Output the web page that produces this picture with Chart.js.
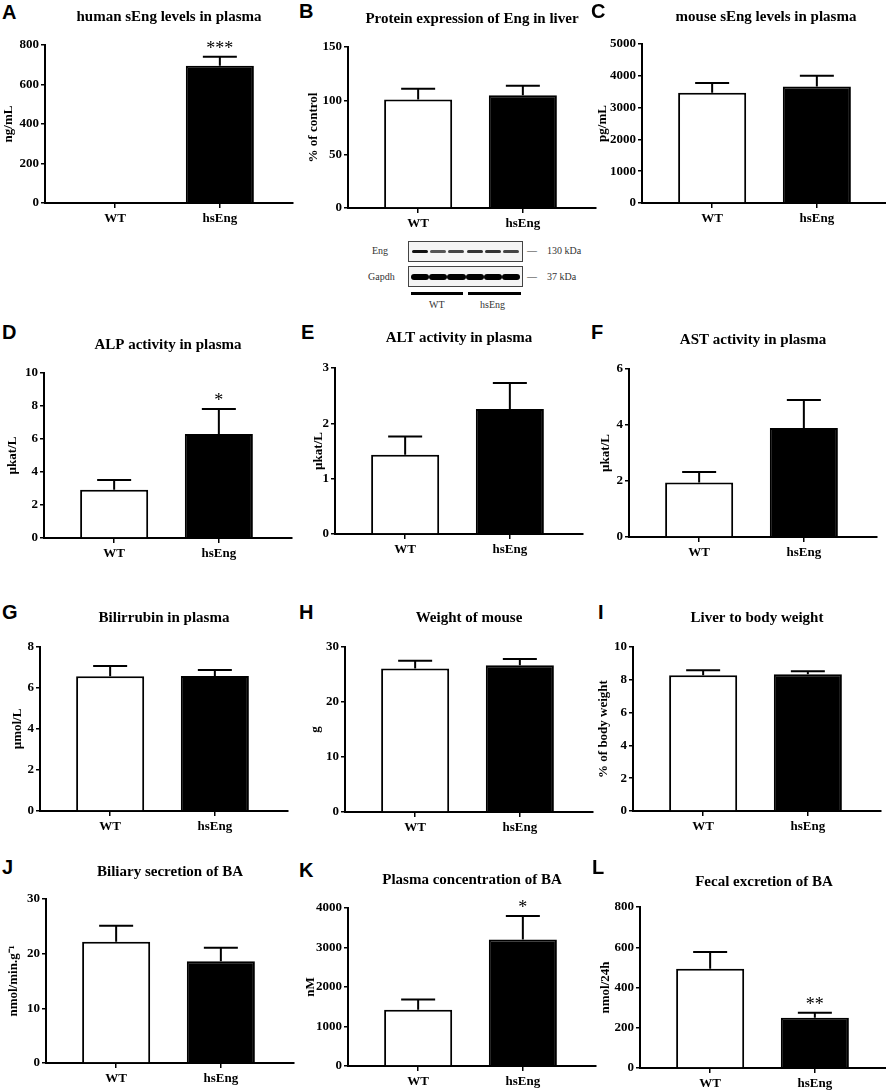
<!DOCTYPE html>
<html>
<head>
<meta charset="utf-8">
<script src="https://cdn.jsdelivr.net/npm/chart.js@4.4.0/dist/chart.umd.min.js"></script>
<style>
body { margin: 0; background: #fff; width: 886px; height: 1091px; position: relative; overflow: hidden; font-family: 'Liberation Serif', serif; }
canvas { position: absolute; }
.letter { position: absolute; font: bold 20px 'Liberation Sans', Arial, sans-serif; line-height: 20px; color: #000; }
.blot-txt { position: absolute; font: 10px 'Liberation Serif', serif; color: #333; white-space: nowrap; line-height: 10px; }
.blot-box { position: absolute; left: 408px; width: 115px; height: 21px; border: 1px solid #444; box-sizing: border-box; display: flex; align-items: center; justify-content: space-around; padding: 0 2px; background: #f4f4f4; }
.band { width: 16px; border-radius: 3px; filter: blur(0.6px); }
.uline { position: absolute; top: 292px; height: 3px; background: #000; }
</style>
</head>
<body>
<script>
// groups on the x axis
const categories = ["WT", "hsEng"];

// mean values and (upper) SEM for each panel
const humanSEng = [0, 695];        const humanSEngErr = [0, 46];
const liverEng = [101, 105];       const liverEngErr = [10, 9];
const mouseSEng = [3465, 3665];    const mouseSEngErr = [305, 335];
const alp = [2.93, 6.3];           const alpErr = [0.59, 1.52];
const alt = [1.43, 2.26];          const altErr = [0.33, 0.47];
const ast = [1.95, 3.89];          const astErr = [0.37, 1.0];
const bilirubin = [6.57, 6.59];    const bilirubinErr = [0.5, 0.29];
const bodyWeight = [26.1, 26.7];   const bodyWeightErr = [1.4, 1.1];
const liverRatio = [8.28, 8.34];   const liverRatioErr = [0.3, 0.18];
const biliaryBA = [22.2, 18.6];    const biliaryBAErr = [2.9, 2.5];
const plasmaBA = [1423, 3200];     const plasmaBAErr = [261, 598];
const fecalBA = [493, 250];        const fecalBAErr = [83, 25];

const panelLetters = ["A","B","C","D","E","F","G","H","I","J","K","L"];
const panelTitles = [
  "human sEng levels in plasma", "Protein expression of Eng in liver", "mouse sEng levels in plasma",
  "ALP activity in plasma", "ALT activity in plasma", "AST activity in plasma",
  "Bilirrubin in plasma", "Weight of mouse", "Liver to body weight",
  "Biliary secretion of BA", "Plasma concentration of BA", "Fecal excretion of BA"
];
const yTitles = ["ng/mL", "% of control", "pg/mL", "µkat/L", "µkat/L", "µkat/L",
  "µmol/L", "g", "% of body weight", "nmol/min.g⁻¹", "nM", "nmol/24h"];
const yMax = [800, 150, 5000, 10, 3, 6, 8, 30, 10, 30, 4000, 800];
const yStep = [200, 50, 1000, 2, 1, 2, 2, 10, 2, 10, 1000, 200];
const means = [humanSEng, liverEng, mouseSEng, alp, alt, ast, bilirubin, bodyWeight, liverRatio, biliaryBA, plasmaBA, fecalBA];
const errs = [humanSEngErr, liverEngErr, mouseSEngErr, alpErr, altErr, astErr, bilirubinErr, bodyWeightErr, liverRatioErr, biliaryBAErr, plasmaBAErr, fecalBAErr];
const stars = [["", "***"], ["", ""], ["", ""], ["", "*"], ["", ""], ["", ""],
  ["", ""], ["", ""], ["", ""], ["", ""], ["", "*"], ["", "**"]];

// page layout: plot left, plot top, plot bottom, title centre y, y-title centre x, letter x, letter y
const boxes = [
  [45, 45, 203, 17, 8, 2, 2],       [348, 47, 208, 19, 313, 299, 1],    [642, 44, 203, 17, 602, 591, 1],
  [44, 373, 538, 345, 12, 2, 322],  [335, 368, 534, 338, 318, 301, 322], [629, 369, 537, 340, 605, 591, 322],
  [40, 647, 811, 618, 17, 2, 602],  [345, 647, 812, 618, 315, 299, 602], [633, 647, 811, 618, 603, 598, 602],
  [46, 899, 1063, 872, 13, 2, 857], [348, 908, 1066, 880, 310, 299, 860], [640, 907, 1068, 882, 605, 592, 857]
];
const PLOT_W = 248, XAXIS_H = 32;
const serif = "'Liberation Serif', 'Times New Roman', serif";

const errorBars = {
  id: "errorBars",
  afterDatasetsDraw(chart) {
    const ctx = chart.ctx;
    const ds = chart.data.datasets[0];
    const y = chart.scales.y;
    chart.getDatasetMeta(0).data.forEach((bar, i) => {
      const top = y.getPixelForValue(ds.data[i].y + ds.errors[i]);
      ctx.save();
      ctx.strokeStyle = "#000";
      ctx.lineWidth = 2;
      if (ds.errors[i] > 0) {
        ctx.beginPath();
        ctx.moveTo(bar.x, bar.y);
        ctx.lineTo(bar.x, top);
        ctx.moveTo(bar.x - 17, top);
        ctx.lineTo(bar.x + 17, top);
        ctx.stroke();
      }
      if (ds.stars[i]) {
        ctx.fillStyle = "#000";
        ctx.font = "18px " + serif;
        ctx.textAlign = "center";
        ctx.textBaseline = "alphabetic";
        ctx.fillText(ds.stars[i], bar.x, top - 3);
      }
      ctx.restore();
    });
  }
};

panelLetters.forEach((letter, i) => {
  const [L, T, B, titleY, yTitleX, lx, ly] = boxes[i];
  const cTop = Math.round(titleY - 9);
  const cLeft = yTitleX - 7;
  const axisW = L - cLeft;
  const w = axisW + PLOT_W + 2;
  const h = B - cTop + XAXIS_H;

  const lab = document.createElement("div");
  lab.className = "letter";
  lab.style.left = lx + "px";
  lab.style.top = ly + "px";
  lab.textContent = letter;
  document.body.appendChild(lab);

  const cv = document.createElement("canvas");
  cv.width = w; cv.height = h;
  cv.style.left = cLeft + "px"; cv.style.top = cTop + "px";
  cv.style.width = w + "px"; cv.style.height = h + "px";
  document.body.appendChild(cv);

  new Chart(cv.getContext("2d"), {
    type: "bar",
    data: {
      datasets: [{
        data: means[i].map((v, k) => ({ x: k + 1, y: v })),
        errors: errs[i],
        stars: stars[i],
        backgroundColor: ["#ffffff", "#000000"],
        borderColor: "#000",
        borderWidth: 2,
        borderSkipped: "bottom",
        categoryPercentage: 1,
        barPercentage: 0.65
      }]
    },
    options: {
      responsive: false,
      animation: false,
      devicePixelRatio: 1,
      layout: { padding: { left: 0, right: 2, top: 0, bottom: 0 } },
      plugins: {
        legend: { display: false },
        tooltip: { enabled: false },
        title: {
          display: true,
          text: panelTitles[i],
          fullSize: false,
          color: "#000",
          font: { family: serif, size: 15, weight: "bold", lineHeight: 1.2 },
          padding: { top: 0, bottom: T - cTop - 18 }
        }
      },
      scales: {
        x: {
          type: "linear",
          offset: false,
          min: 0.33,
          max: 0.33 + PLOT_W / 104.7,
          afterBuildTicks: s => { s.ticks = [{ value: 1 }, { value: 2 }]; },
          afterFit: s => { s.height = XAXIS_H; },
          ticks: {
            color: "#000",
            padding: 3,
            font: { family: serif, size: 13, weight: "bold" },
            callback: v => categories[Math.round(v) - 1]
          },
          grid: { offset: false, drawOnChartArea: false, drawTicks: true, tickLength: 5, color: "#000", lineWidth: 1.5 },
          border: { color: "#000", width: 2 }
        },
        y: {
          min: 0,
          max: yMax[i],
          afterFit: s => { s.width = axisW; },
          ticks: {
            stepSize: yStep[i],
            color: "#000",
            padding: 2,
            font: { family: serif, size: 13, weight: "bold" },
            callback: v => String(v)
          },
          grid: { drawOnChartArea: false, drawTicks: true, tickLength: 4, color: "#000", lineWidth: 1.5 },
          border: { color: "#000", width: 2 },
          title: {
            display: true,
            text: yTitles[i],
            color: "#000",
            padding: 0,
            font: { family: serif, size: 13, weight: "bold" }
          }
        }
      }
    },
    plugins: [errorBars]
  });
});
</script>

<!-- western blot inset under panel B -->
<div class="blot-txt" style="left:372px;top:246px;">Eng</div>
<div class="blot-txt" style="left:368px;top:272px;">Gapdh</div>
<div class="blot-box" style="top:241px;">
  <div class="band" style="height:3px;background:#111;"></div>
  <div class="band" style="height:3px;background:#555;"></div>
  <div class="band" style="height:3px;background:#444;"></div>
  <div class="band" style="height:3px;background:#333;"></div>
  <div class="band" style="height:3px;background:#333;"></div>
  <div class="band" style="height:3px;background:#444;"></div>
</div>
<div class="blot-box" style="top:266px;">
  <div class="band" style="height:6px;width:19px;background:#000;"></div>
  <div class="band" style="height:6px;width:19px;background:#000;"></div>
  <div class="band" style="height:6px;width:19px;background:#000;"></div>
  <div class="band" style="height:6px;width:19px;background:#000;"></div>
  <div class="band" style="height:6px;width:19px;background:#000;"></div>
  <div class="band" style="height:6px;width:19px;background:#000;"></div>
</div>
<div class="blot-txt" style="left:527px;top:246px;">—&nbsp;&nbsp;&nbsp;&nbsp;130 kDa</div>
<div class="blot-txt" style="left:527px;top:272px;">—&nbsp;&nbsp;&nbsp;&nbsp;37 kDa</div>
<div class="uline" style="left:411px;width:52px;"></div>
<div class="uline" style="left:468px;width:53px;"></div>
<div class="blot-txt" style="left:429px;top:300px;">WT</div>
<div class="blot-txt" style="left:480px;top:300px;">hsEng</div>
</body>
</html>
